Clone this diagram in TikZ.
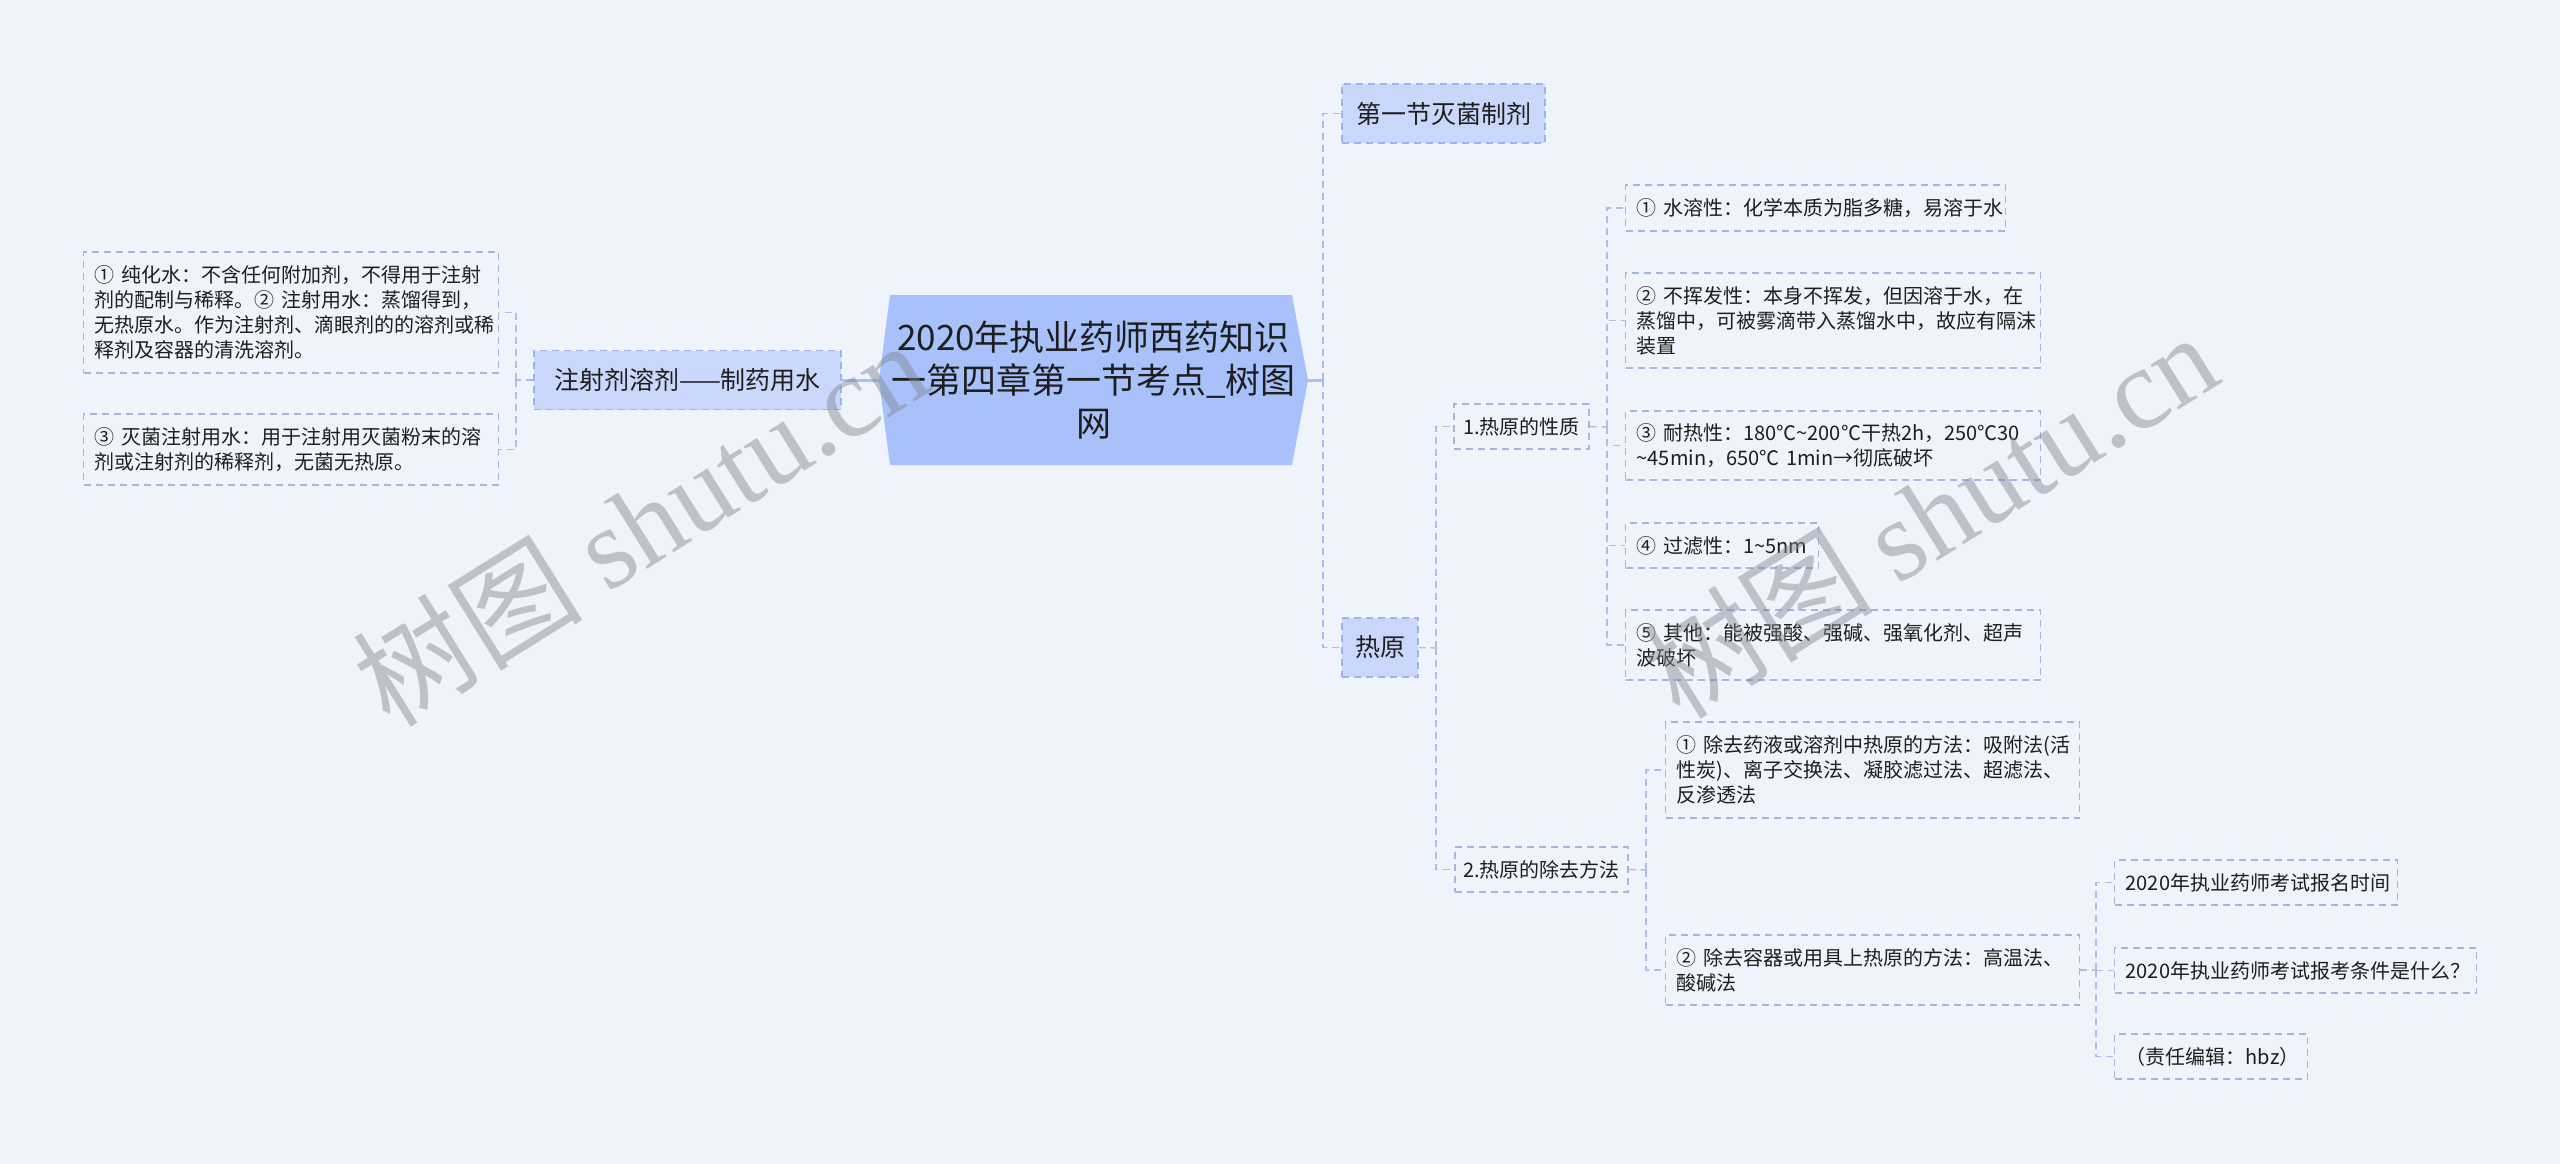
\documentclass[tikz,border=0pt]{standalone}
\usepackage{fontspec}
\setmainfont{Noto Sans CJK SC}
\newfontfamily\wmserif{Liberation Serif}
\usetikzlibrary{calc}

\definecolor{bgcol}{HTML}{EFF3FB}
\definecolor{rootfill}{HTML}{A9C1FA}
\definecolor{lonefill}{HTML}{C9D8FA}
\definecolor{loneborder}{HTML}{9FB4EA}
\definecolor{leafborder}{HTML}{A5B6DA}
\definecolor{lineone}{HTML}{A7BDF0}
\definecolor{linetwo}{HTML}{AEBFE2}
\definecolor{txt}{HTML}{1E1E1E}
\definecolor{wmcol}{HTML}{7F8590}

\begin{document}
\begin{tikzpicture}[x=1pt,y=-1pt,
 dsh/.style={dash pattern=on 7pt off 5pt, line width=1.4pt},
 rootnode/.style={minimum width=429pt, minimum height=170pt, inner sep=0pt, align=center,
   text=txt, font=\fontsize{35}{43}\selectfont, fill=bgcol,
   path picture={\fill[rootfill] (path picture bounding box.west)
     -- ([xshift=11pt]path picture bounding box.north west)
     -- ([xshift=-16pt]path picture bounding box.north east)
     -- (path picture bounding box.east)
     -- ([xshift=-16pt]path picture bounding box.south east)
     -- ([xshift=11pt]path picture bounding box.south west) -- cycle;}},
 lone/.style={draw=loneborder, dsh, fill=lonefill, text=txt, font=\fontsize{25}{31}\selectfont, inner sep=0pt},
 ltwo/.style={draw=leafborder, dsh, text=txt, font=\fontsize{20}{25}\selectfont, inner sep=0pt},
 leaf/.style={draw=leafborder, dsh, text=txt, font=\fontsize{20}{25}\selectfont, inner xsep=11pt, inner ysep=0pt, align=left, anchor=west},
 rootline/.style={draw=rootfill, line width=3pt},
 conone/.style={draw=lineone, dsh},
 contwo/.style={draw=linetwo, dsh},
 wm/.style={text=wmcol, opacity=0.45, rotate=32, font=\fontsize{115}{120}\selectfont, inner sep=0pt}
]
\useasboundingbox (0,0) rectangle (2560,1164);
\fill[bgcol] (0,0) rectangle (2560,1164);

% root
\node[rootnode] (root) at (1093.5,380) {2020年执业药师西药知识\\一第四章第一节考点\_树图\\网};

% level one
\node[lone, minimum width=307pt, minimum height=59pt] (zsj) at (687.5,380) {注射剂溶剂——制药用水};
\node[lone, minimum width=203pt, minimum height=59pt] (jq) at (1443.5,113.5) {第一节灭菌制剂};
\node[lone, minimum width=76pt, minimum height=59pt] (ry) at (1380,647.5) {热原};

% left leaves
\node[leaf, text width=393pt, minimum height=121pt] (a1) at (83,312.5)
 {①~纯化水：不含任何附加剂，不得用于注射\\剂的配制与稀释。②~注射用水：蒸馏得到，\\无热原水。作为注射剂、滴眼剂的的溶剂或稀\\释剂及容器的清洗溶剂。};
\node[leaf, text width=393pt, minimum height=71pt] (a3) at (83,449.5)
 {③~灭菌注射用水：用于注射用灭菌粉末的溶\\剂或注射剂的稀释剂，无菌无热原。};

% level two
\node[ltwo, minimum width=135pt, minimum height=45pt] (p1) at (1521.5,426.5) {1.热原的性质};
\node[ltwo, minimum width=173pt, minimum height=45pt] (p2) at (1541.5,869.5) {2.热原的除去方法};

% leaves of p1
\node[leaf, text width=358pt, minimum height=46pt] (b1) at (1625,208) {①~水溶性：化学本质为脂多糖，易溶于水};
\node[leaf, text width=393pt, minimum height=95pt] (b2) at (1625,320.5)
 {②~不挥发性：本身不挥发，但因溶于水，在\\蒸馏中，可被雾滴带入蒸馏水中，故应有隔沫\\装置};
\node[leaf, text width=393pt, minimum height=69pt] (b3) at (1625,445.5)
 {③~耐热性：180℃\textasciitilde 200℃干热2h，250℃30\\\textasciitilde 45min，650℃~1min→彻底破坏};
\node[leaf, text width=171pt, minimum height=45pt] (b4) at (1625,545.5) {④~过滤性：1\textasciitilde 5nm};
\node[leaf, text width=393pt, minimum height=70pt] (b5) at (1625,645)
 {⑤~其他：能被强酸、强碱、强氧化剂、超声\\波破坏};

% leaves of p2
\node[leaf, text width=392pt, minimum height=96pt] (m1) at (1665,770)
 {①~除去药液或溶剂中热原的方法：吸附法(活\\性炭)、离子交换法、凝胶滤过法、超滤法、\\反渗透法};
\node[leaf, text width=392pt, minimum height=70pt] (m2) at (1665,970)
 {②~除去容器或用具上热原的方法：高温法、\\酸碱法};

% leaves of m2
\node[leaf, text width=261pt, minimum height=45pt] (e1) at (2114,882.5) {2020年执业药师考试报名时间};
\node[leaf, text width=340pt, minimum height=45pt] (e2) at (2114,970.5) {2020年执业药师考试报考条件是什么？};
\node[leaf, text width=171pt, minimum height=45pt] (e3) at (2114,1056.5) {（责任编辑：hbz）};

% connectors
\coordinate (rj) at (1323,380);
\draw[rootline] (root.east) -- (rj);
\draw[conone] (rj) |- (jq.west);
\draw[conone] (rj) |- (ry.west);

\draw[rootline] (root.west) -- (zsj.east);
\coordinate (lj) at (516,380);
\draw[conone] (zsj.west) -- (lj);
\draw[contwo] (lj) |- (a1.east);
\draw[contwo] (lj) |- (a3.east);

\coordinate (rj2) at (1436,648);
\draw[contwo] (ry.east) -- (rj2);
\draw[contwo] (rj2) |- (p1.west);
\draw[contwo] (rj2) |- (p2.west);

\coordinate (pj1) at (1607,427);
\draw[contwo] (p1.east) -- (pj1);
\foreach \n in {b1,b2,b3,b4,b5} \draw[contwo] (pj1) |- (\n.west);

\coordinate (pj2) at (1646,870);
\draw[contwo] (p2.east) -- (pj2);
\draw[contwo] (pj2) |- (m1.west);
\draw[contwo] (pj2) |- (m2.west);

\coordinate (mj) at (2096,970);
\draw[contwo] (m2.east) -- (mj);
\foreach \n in {e1,e2,e3} \draw[contwo] (mj) |- (\n.west);

% watermarks
\node[wm] (wm1) at (640,522) {树图 {\wmserif shutu.cn}};
\node[wm] (wm2) at (1930,514) {树图 {\wmserif shutu.cn}};
\end{tikzpicture}
\end{document}
